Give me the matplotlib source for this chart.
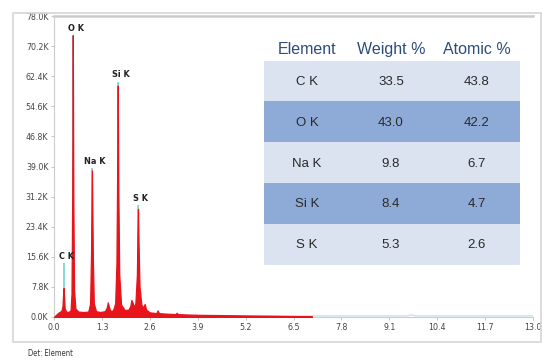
import matplotlib.pyplot as plt
from matplotlib.patches import Rectangle

# EDS spectrum (energy in keV, counts in thousands)
energy_kev = [0.00, 0.08, 0.15, 0.20, 0.23, 0.245, 0.26, 0.275, 0.29, 0.33, 0.40, 0.45, 0.475, 0.495,
              0.51, 0.525, 0.545, 0.58, 0.66, 0.80, 0.93, 0.98, 1.005, 1.03, 1.055, 1.08, 1.14, 1.25,
              1.38, 1.43, 1.46, 1.49, 1.53, 1.60, 1.66, 1.695, 1.715, 1.73, 1.745, 1.77, 1.82, 1.92,
              2.02, 2.07, 2.10, 2.13, 2.17, 2.21, 2.25, 2.265, 2.28, 2.295, 2.32, 2.37, 2.43, 2.46,
              2.50, 2.60, 2.78, 2.81, 2.85, 3.00, 3.30, 3.33, 3.36, 3.60, 4.00, 4.50, 5.00, 5.50,
              6.00, 6.50, 7.00]
counts_k = [0.0, 0.8, 1.3, 1.6, 2.8, 5.5, 7.5, 5.0, 2.2, 1.4, 1.3, 1.8, 6.0, 32.0,
            73.0, 30.0, 7.0, 2.2, 1.4, 1.3, 1.4, 3.5, 16.0, 38.0, 15.0, 3.5, 1.5, 1.3,
            1.5, 2.4, 3.8, 2.6, 1.6, 1.7, 3.5, 14.0, 38.0, 60.0, 34.0, 11.0, 3.2, 1.8,
            1.9, 2.8, 4.4, 3.8, 2.5, 3.7, 11.0, 21.0, 28.0, 19.0, 8.0, 3.2, 2.5, 3.4,
            1.9, 1.2, 1.0, 1.7, 1.0, 0.9, 0.75, 1.1, 0.75, 0.65, 0.55, 0.5, 0.42, 0.36,
            0.3, 0.24, 0.18]

# faint tail of the spectrum (drawn light blue)
tail_kev = [0.0, 9.60, 9.70, 9.80, 13.0]
tail_counts_k = [0.3, 0.3, 0.55, 0.3, 0.3]

# peak markers: label, energy, top of marker line
peak_labels = ["C K", "O K", "Na K", "Si K", "S K"]
peak_kev = [0.26, 0.51, 1.03, 1.73, 2.28]
peak_marker_k = [14.0, 73.0, 38.6, 61.0, 29.0]

x_ticks = [0.0, 1.3, 2.6, 3.9, 5.2, 6.5, 7.8, 9.1, 10.4, 11.7, 13.0]
y_ticks = [0.0, 7.8, 15.6, 23.4, 31.2, 39.0, 46.8, 54.6, 62.4, 70.2, 78.0]

# composition table
elements = ["C K", "O K", "Na K", "Si K", "S K"]
weight_pct = ["33.5", "43.0", "9.8", "8.4", "5.3"]
atomic_pct = ["43.8", "42.2", "6.7", "4.7", "2.6"]
table_header = ["Element", "Weight %", "Atomic %"]

plt.rcParams['font.family'] = ['DejaVu Sans']
narrow = dict(fontstretch='condensed')

W, H = 542, 361
fig = plt.figure(figsize=(W / 100, H / 100), dpi=100)

# outer light frame
fig.patches.append(Rectangle((13 / W, 1 - 342 / H), 528 / W, 329 / H, transform=fig.transFigure,
                             fill=False, edgecolor='#d6d6d6', lw=1.2))

ax = fig.add_axes([54 / W, 1 - 317 / H, 479 / W, 301 / H])
ax.set_xlim(0, 13.0)
ax.set_ylim(0, 78.0)

ax.plot(tail_kev, tail_counts_k, color='#c4e6ea', lw=1.0, zorder=1)
ax.vlines(peak_kev, 0, peak_marker_k, color='#7fd6dc', lw=1.3, zorder=2)
ax.fill_between(energy_kev, 0, counts_k, color='#e8141b', lw=0.9, edgecolor='#e8141b', zorder=3)

for lab, e, top in zip(peak_labels, peak_kev, peak_marker_k):
    ax.text(e + 0.08, top + 0.6, lab, ha='center', va='bottom', fontsize=6.5,
            fontweight='bold', color='#222222', **narrow)

ax.set_xticks(x_ticks)
ax.set_xticklabels([f"{v:.1f}" for v in x_ticks], **narrow)
ax.set_yticks(y_ticks)
ax.set_yticklabels([f"{v:.1f}K" for v in y_ticks], **narrow)
ax.tick_params(length=2, width=0.6, color='#bbbbbb', labelsize=6.3, labelcolor='#444444', pad=2)
for side in ['left', 'top', 'bottom']:
    ax.spines[side].set_color('#cccccc')
ax.spines['top'].set_linewidth(1.8)
ax.spines['right'].set_visible(False)

fig.text(28 / W, 1 - 354 / H, "Det: Element", fontsize=5.5, color='#333333', va='center', **narrow)

# table
tab = fig.add_axes([264 / W, 1 - 265 / H, 256 / W, 229 / H])
tab.set_xlim(0, 1)
tab.set_ylim(len(elements), -0.6)
tab.axis('off')
col_x = [0.168, 0.496, 0.832]
for j, h in enumerate(table_header):
    tab.text(col_x[j], -0.28, h, ha='center', va='center', fontsize=11.5,
             family=['Liberation Sans', 'DejaVu Sans'], color='#2d4d7d')
for i, row in enumerate(zip(elements, weight_pct, atomic_pct)):
    shade = '#8eabd8' if i % 2 else '#dae3ef'
    tab.add_patch(Rectangle((0, i), 1, 1, facecolor=shade, edgecolor='none'))
    for j, val in enumerate(row):
        tab.text(col_x[j], i + 0.52, val, ha='center', va='center', fontsize=9.5,
                 family=['Liberation Sans', 'DejaVu Sans'], color='#2a2a2a')

fig.savefig("out.png", dpi=100)
